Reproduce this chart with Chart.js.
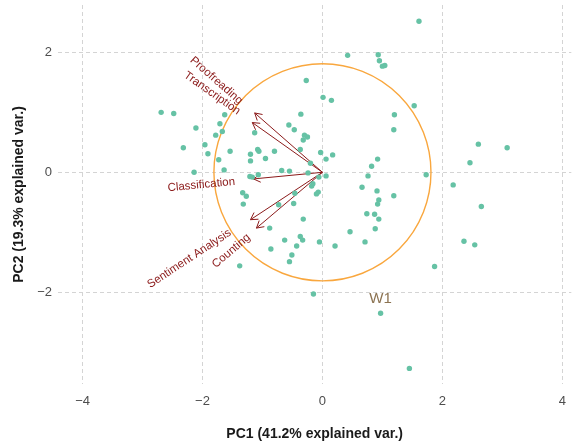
<!DOCTYPE html>
<html>
<head>
<meta charset="utf-8">
<script src="https://cdn.jsdelivr.net/npm/chart.js@4.4.1/dist/chart.umd.min.js"></script>
<style>
  html, body { margin: 0; padding: 0; background: #fff; overflow: hidden; }
  #wrap { width: 574px; height: 445px; position: relative; }
</style>
</head>
<body>
<div id="wrap"><canvas id="biplot"></canvas></div>
<script>
// --- data ---
const pc1 = [0.42, -0.27, 0.01, 0.15, -2.69, -2.48, -1.63, -0.36, -2.11, -1.71,
    -0.56, -0.47, -1.67, -1.78, -1.13, -0.30, -0.25, -0.32, -1.96, -2.32,
    -1.08, -1.06, -0.80, -0.37, -1.54, -1.91, -1.73, -1.20, -1.20, -0.95,
    -0.03, 0.17, 0.06, -0.20, -2.14, -1.64, -1.21, -1.17, -1.07, -0.68,
    -0.55, -0.24, -0.06, 0.06, -0.16, -0.18, -0.46, -0.10, -0.07, -1.33,
    -1.27, -1.32, -0.73, -0.48, -0.32, -0.88, 0.46, -0.63, -0.37, -0.33,
    -0.05, 0.21, -0.43, -0.86, -0.51, -0.55, -1.38, -0.15, 1.61, 0.93,
    0.95, 1.00, 1.04, 1.53, 1.20, 1.19, 2.60, 3.08, 0.92, 0.82,
    2.46, 0.76, 1.73, 2.18, 0.66, 0.91, 1.19, 0.94, 0.92, 2.65,
    0.74, 0.87, 0.94, 0.88, 0.71, 2.36, 2.54, 1.87, 0.97, 1.45];
const pc2 = [1.95, 1.53, 1.25, 1.20, 1.00, 0.98, 0.96, 0.97, 0.74, 0.81,
    0.79, 0.71, 0.68, 0.62, 0.66, 0.62, 0.59, 0.54, 0.46, 0.41,
    0.38, 0.35, 0.35, 0.38, 0.35, 0.31, 0.21, 0.30, 0.19, 0.23,
    0.33, 0.29, 0.22, 0.15, 0.00, 0.04, -0.07, -0.08, -0.04, 0.03,
    0.02, -0.01, -0.08, -0.06, -0.19, -0.23, -0.35, -0.36, -0.33, -0.34,
    -0.40, -0.53, -0.54, -0.52, -0.78, -0.93, -0.99, -1.13, -1.07, -1.13,
    -1.16, -1.23, -1.23, -1.28, -1.38, -1.49, -1.56, -2.03, 2.52, 1.96,
    1.86, 1.77, 1.78, 1.11, 0.96, 0.71, 0.47, 0.41, 0.22, 0.10,
    0.16, -0.06, -0.04, -0.21, -0.25, -0.31, -0.39, -0.46, -0.53, -0.57,
    -0.69, -0.70, -0.78, -0.94, -1.16, -1.15, -1.21, -1.57, -2.35, -3.27];

// variable arrows (tips) and where their names sit
const varNames = ['Proofreading', 'Transcription', 'Classification', 'Sentiment Analysis', 'Counting'];
const varX = [-1.13, -1.17, -1.15, -1.20, -1.10];
const varY = [0.99, 0.83, -0.11, -0.79, -0.93];
const varLabelX = [-1.77, -1.84, -2.02, -2.22, -1.52];
const varLabelY = [1.53, 1.32, -0.21, -1.44, -1.31];

const groupNames = ['W1'];
const groupLabelX = [0.97];
const groupLabelY = [-2.11];

const circleRadius = 1.81;

const xTicks = [-4, -2, 0, 2, 4];
const yTicks = [-2, 0, 2];

document.addEventListener('DOMContentLoaded', function() {
    const canvas = document.getElementById('biplot');

    const fmt = v => (v < 0 ? '\u2212' + Math.abs(v) : String(v));

    // keep the plot panel edge to edge, no extra room for end labels
    const noEdgePadding = s => {
        s.paddingTop = 0; s.paddingBottom = 0;
        s.paddingLeft = 0; s.paddingRight = 0;
    };

    const biplotLayers = {
        id: 'biplotLayers',
        beforeDatasetsDraw(chart) {
            const ctx = chart.ctx;
            const xs = chart.scales.x, ys = chart.scales.y;
            const ox = xs.getPixelForValue(0), oy = ys.getPixelForValue(0);
            const area = chart.chartArea;
            ctx.save();
            ctx.beginPath();
            ctx.rect(area.left, area.top, area.right - area.left, area.bottom - area.top);
            ctx.clip();

            // correlation circle
            const r = xs.getPixelForValue(circleRadius) - ox;
            ctx.beginPath();
            ctx.arc(ox, oy, r, 0, Math.PI * 2);
            ctx.strokeStyle = '#f9a73e';
            ctx.lineWidth = 1.4;
            ctx.stroke();

            // arrows
            ctx.strokeStyle = '#8b1a1a';
            ctx.lineWidth = 1;
            varX.forEach((vx, i) => {
                const tx = xs.getPixelForValue(vx), ty = ys.getPixelForValue(varY[i]);
                ctx.beginPath();
                ctx.moveTo(ox, oy);
                ctx.lineTo(tx, ty);
                const a = Math.atan2(ty - oy, tx - ox);
                const len = 8, spread = Math.PI / 6;
                ctx.moveTo(tx - len * Math.cos(a - spread), ty - len * Math.sin(a - spread));
                ctx.lineTo(tx, ty);
                ctx.lineTo(tx - len * Math.cos(a + spread), ty - len * Math.sin(a + spread));
                ctx.stroke();
            });
            ctx.restore();
        },
        afterDatasetsDraw(chart) {
            const ctx = chart.ctx;
            const xs = chart.scales.x, ys = chart.scales.y;
            ctx.save();
            ctx.textAlign = 'center';
            ctx.textBaseline = 'middle';

            // variable names, rotated along their arrows
            ctx.fillStyle = '#8b1a1a';
            ctx.font = "11.5px 'Liberation Sans', Arial, sans-serif";
            varNames.forEach((name, i) => {
                const px = xs.getPixelForValue(varLabelX[i]);
                const py = ys.getPixelForValue(varLabelY[i]);
                const ang = -Math.atan(varY[i] / varX[i]);
                ctx.save();
                ctx.translate(px, py);
                ctx.rotate(ang);
                ctx.fillText(name, 0, 0);
                ctx.restore();
            });

            // group label
            ctx.fillStyle = '#8c7352';
            ctx.font = "15px 'Liberation Sans', Arial, sans-serif";
            groupNames.forEach((g, i) => {
                ctx.fillText(g, xs.getPixelForValue(groupLabelX[i]), ys.getPixelForValue(groupLabelY[i]));
            });
            ctx.restore();
        }
    };

    new Chart(canvas, {
        type: 'scatter',
        data: {
            datasets: [{
                label: 'W1',
                data: pc1.map((x, i) => ({ x: x, y: pc2[i] })),
                backgroundColor: '#66c2a5',
                borderWidth: 0,
                pointRadius: 2.7,
                pointHoverRadius: 2.7
            }]
        },
        options: {
            responsive: true,
            maintainAspectRatio: false,
            animation: false,
            layout: { padding: { top: 5, right: 0, left: 0, bottom: 0 } },
            plugins: {
                legend: { display: false },
                tooltip: { enabled: false }
            },
            scales: {
                x: {
                    type: 'linear',
                    min: -4.41,
                    max: 4.15,
                    afterBuildTicks: s => { s.ticks = xTicks.map(v => ({ value: v })); },
                    afterFit: s => { s.height = 61; noEdgePadding(s); },
                    grid: { color: '#d4d4d4', lineWidth: 1, drawTicks: false },
                    border: { display: false, dash: [4, 3] },
                    ticks: {
                        color: '#4d4d4d',
                        padding: 10,
                        font: { family: "'Liberation Sans', Arial, sans-serif", size: 13 },
                        callback: v => fmt(v)
                    },
                    title: {
                        display: true,
                        text: 'PC1 (41.2% explained var.)',
                        color: '#1a1a1a',
                        padding: { top: 0, bottom: 2 },
                        font: { family: "'Liberation Sans', Arial, sans-serif", size: 14, weight: 'bold' }
                    }
                },
                y: {
                    type: 'linear',
                    min: -3.53,
                    max: 2.79,
                    afterBuildTicks: s => { s.ticks = yTicks.map(v => ({ value: v })); },
                    afterFit: s => { s.width = 58; noEdgePadding(s); },
                    grid: { color: '#d4d4d4', lineWidth: 1, drawTicks: false },
                    border: { display: false, dash: [4, 3] },
                    ticks: {
                        color: '#4d4d4d',
                        padding: 6,
                        font: { family: "'Liberation Sans', Arial, sans-serif", size: 13 },
                        callback: v => fmt(v)
                    },
                    title: {
                        display: true,
                        text: 'PC2 (19.3% explained var.)',
                        color: '#1a1a1a',
                        padding: { top: 11, bottom: 0 },
                        font: { family: "'Liberation Sans', Arial, sans-serif", size: 14, weight: 'bold' }
                    }
                }
            }
        },
        plugins: [biplotLayers]
    });
});
</script>
</body>
</html>
